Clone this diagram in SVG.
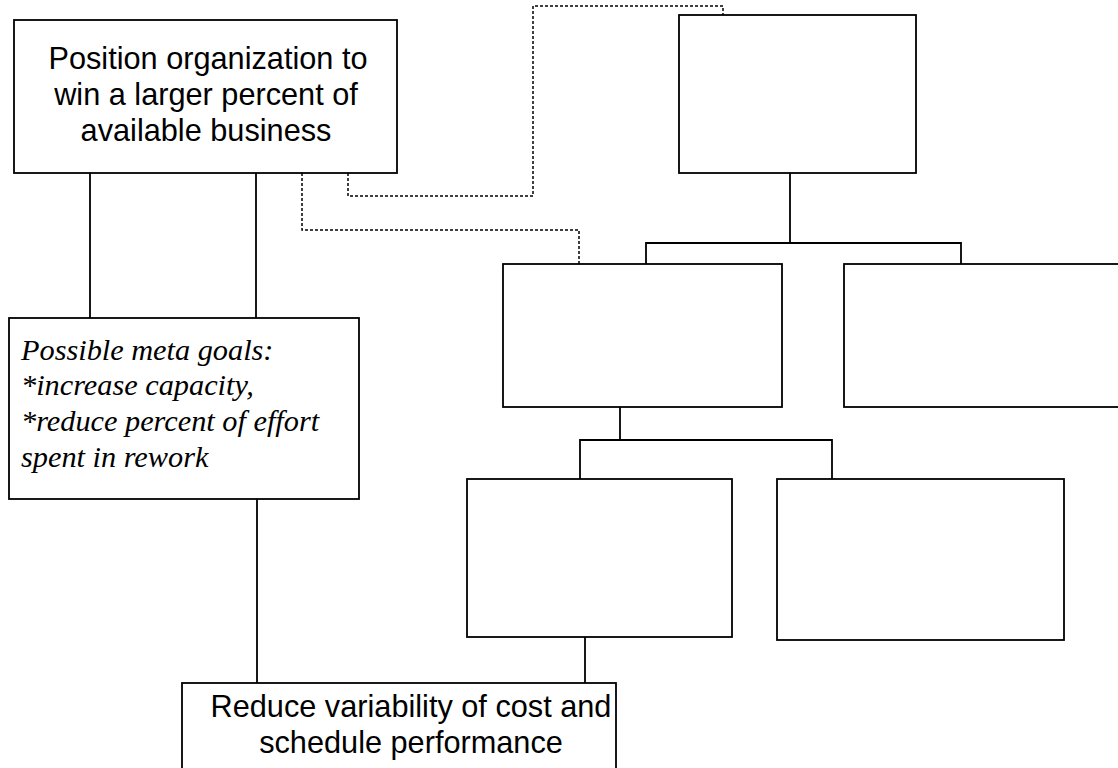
<svg xmlns="http://www.w3.org/2000/svg" width="1118" height="768" viewBox="0 0 1118 768">
<style>
.box{fill:#fff;stroke:#000;stroke-width:1.8}
.ln{fill:none;stroke:#000;stroke-width:1.8}
.dot{fill:none;stroke:#000;stroke-width:1.5;stroke-dasharray:3 2}
.sans{font-family:"Liberation Sans",Arial,sans-serif;font-size:30.7px;fill:#000;text-anchor:middle}
.ital{font-family:"Liberation Serif","Times New Roman",serif;font-size:30.3px;font-style:italic;fill:#000}
</style>
<rect width="1118" height="768" fill="#fff"/>
<g id="connectors">
<path class="ln" d="M90,173V318M256,173V318M257,499V683"/>
<path class="ln" d="M790,173V243M646,264V243H961V264"/>
<path class="ln" d="M620,407V440M580,479V440H832V479"/>
<path class="ln" d="M585,637V683"/>
<path class="dot" d="M348,173V196H533V6H723V15"/>
<path class="dot" d="M302,173V230H579V264"/>
</g>
<g id="node-position">
<rect class="box" x="14" y="20" width="383" height="153"/>
<text class="sans" x="208" y="69">Position organization to</text>
<text class="sans" x="206" y="105">win a larger percent of</text>
<text class="sans" x="206" y="141">available business</text>
</g>
<g id="node-meta">
<rect class="box" x="9" y="318" width="350" height="181"/>
<text class="ital" x="21" y="360">Possible meta goals:</text>
<text class="ital" x="21" y="395">*increase capacity,</text>
<text class="ital" x="21" y="431">*reduce percent of effort</text>
<text class="ital" x="21" y="467">spent in rework</text>
</g>
<g id="node-top-right">
<rect class="box" x="679" y="15" width="237" height="158"/>
</g>
<g id="node-mid-left">
<rect class="box" x="503" y="264" width="279" height="143"/>
</g>
<g id="node-mid-right">
<rect class="box" x="844" y="264" width="290" height="143"/>
</g>
<g id="node-low-left">
<rect class="box" x="467" y="479" width="265" height="158"/>
</g>
<g id="node-low-right">
<rect class="box" x="777" y="479" width="287" height="161"/>
</g>
<g id="node-reduce">
<rect class="box" x="182" y="683" width="434" height="100"/>
<text class="sans" x="411" y="717">Reduce variability of cost and</text>
<text class="sans" x="411" y="753">schedule performance</text>
</g>
</svg>
